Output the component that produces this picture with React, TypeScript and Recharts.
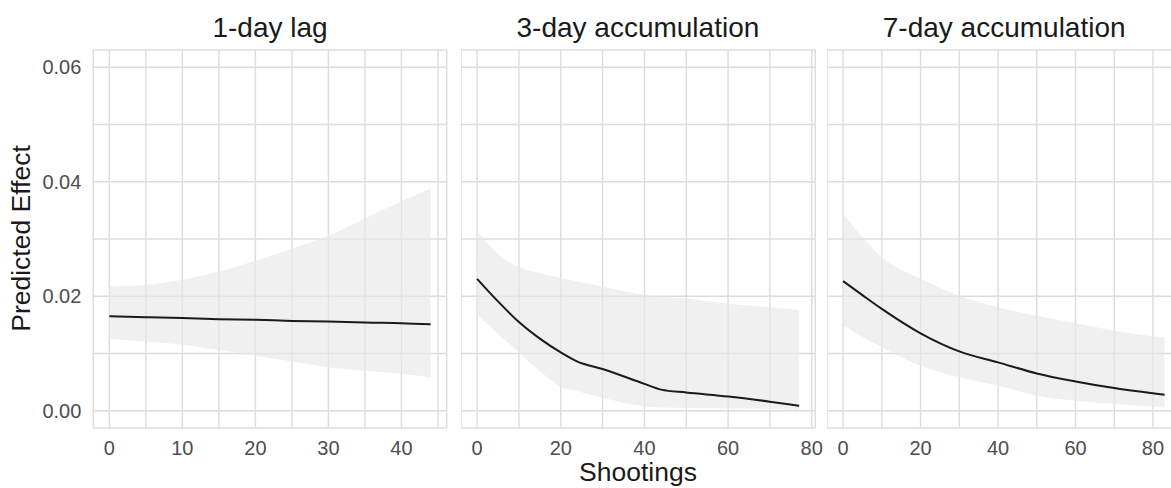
import React from "react";
import { ComposedChart, Area, Line, XAxis, YAxis, CartesianGrid } from "recharts";

// ---- Data ----
const lag1X = [0, 5, 10, 15, 20, 25, 30, 35, 40, 44];
const lag1Fit = [0.0165, 0.01635, 0.0162, 0.016, 0.0159, 0.0157, 0.0156, 0.0154, 0.0153, 0.0151];
const lag1Low = [0.01255, 0.0121, 0.01155, 0.0106, 0.00963, 0.0086, 0.0076, 0.007, 0.00642, 0.00584];
const lag1High = [0.0217, 0.022, 0.0229, 0.0243, 0.0262, 0.0283, 0.0306, 0.0336, 0.0366, 0.0388];

const acc3X = [0, 5, 10, 15, 20, 24, 30, 40, 44, 50, 60, 70, 77];
const acc3Fit = [0.02305, 0.0191, 0.0155, 0.0126, 0.0102, 0.0086, 0.0073, 0.0047, 0.0037, 0.0032, 0.0025, 0.0016, 0.0009];
const acc3Low = [0.0168, 0.0134, 0.0102, 0.0069, 0.0042, 0.0034, 0.0023, 0.0008, 0.0006, 0.0005, 0.0004, 0.0003, 0.0002];
const acc3High = [0.0315, 0.0274, 0.0251, 0.024, 0.0232, 0.0226, 0.0217, 0.0203, 0.02, 0.0196, 0.0187, 0.0181, 0.0176];

const acc7X = [0, 5, 10, 20, 30, 40, 50, 60, 70, 83];
const acc7Fit = [0.02264, 0.0202, 0.0178, 0.01354, 0.01038, 0.00846, 0.00653, 0.00513, 0.00397, 0.0028];
const acc7Low = [0.01488, 0.0129, 0.0111, 0.00788, 0.00584, 0.00438, 0.00263, 0.00175, 0.00117, 0.00058];
const acc7High = [0.0344, 0.0303, 0.0268, 0.0231, 0.0201, 0.0181, 0.0166, 0.0153, 0.014, 0.0128];

const panelTitles = ["1-day lag", "3-day accumulation", "7-day accumulation"];
const yTicks = [0, 0.01, 0.02, 0.03, 0.04, 0.05, 0.06];
const yMajor = [0, 0.02, 0.04, 0.06];
const lag1Ticks = [0, 5, 10, 15, 20, 25, 30, 35, 40, 45];
const lag1Major = [0, 10, 20, 30, 40];
const accTicks = [0, 10, 20, 30, 40, 50, 60, 70, 80];
const accMajor = [0, 20, 40, 60, 80];

const xTitle = "Shootings";
const yTitle = "Predicted Effect";

const build = (xs: number[], fit: number[], lo: number[], hi: number[]) =>
  xs.map((x, i) => ({ x, fit: fit[i], band: [lo[i], hi[i]] }));

const FONT = "'Liberation Sans', Arial, Helvetica, sans-serif";
const tickStyle = { fontFamily: FONT, fontSize: 20, fill: "#4d4d4d" };
const EXTRA = 30;

type PanelProps = {
  left: number;
  width: number;
  data: any[];
  xDomain: [number, number];
  xTicks: number[];
  xMajor: number[];
  showY: boolean;
  yAxisWidth: number;
};

function Panel({ left, width, data, xDomain, xTicks, xMajor, showY, yAxisWidth }: PanelProps) {
  return (
    <div style={{ position: "absolute", left, top: 0 }}>
      <ComposedChart
        width={width + EXTRA}
        height={488}
        data={data}
        margin={{ top: 50, right: EXTRA, bottom: 0, left: 0 }}
      >
        <CartesianGrid stroke="#dcdcdc" strokeWidth={1.4} />
        <XAxis
          dataKey="x"
          type="number"
          domain={xDomain}
          allowDataOverflow
          ticks={xTicks}
          interval={0}
          height={60}
          axisLine={false}
          tickLine={false}
          tickSize={0}
          tickMargin={13}
          tick={tickStyle}
          tickFormatter={(v: number) => (xMajor.includes(v) ? String(v) : "")}
        />
        <YAxis
          type="number"
          domain={[-0.003, 0.063]}
          allowDataOverflow
          ticks={yTicks}
          interval={0}
          width={yAxisWidth}
          hide={!showY}
          axisLine={false}
          tickLine={false}
          tickSize={0}
          tickMargin={12}
          tick={tickStyle}
          tickFormatter={(v: number) =>
            yMajor.some((m) => Math.abs(m - v) < 1e-9) ? v.toFixed(2) : ""
          }
        />
        <Area
          dataKey="band"
          type="monotone"
          stroke="none"
          fill="#e8e8e8"
          fillOpacity={0.65}
          isAnimationActive={false}
        />
        <Line
          dataKey="fit"
          type="monotone"
          stroke="#1a1a1a"
          strokeWidth={2}
          dot={false}
          activeDot={false}
          isAnimationActive={false}
        />
      </ComposedChart>
    </div>
  );
}

export default function App() {
  const d1 = build(lag1X, lag1Fit, lag1Low, lag1High);
  const d2 = build(acc3X, acc3Fit, acc3Low, acc3High);
  const d3 = build(acc7X, acc7Fit, acc7Low, acc7High);
  return (
    <div
      style={{
        position: "fixed",
        left: 0,
        top: 0,
        width: 1171,
        height: 488,
        overflow: "hidden",
        background: "#ffffff",
      }}
    >
      <Panel left={0} width={446.7} data={d1} xDomain={[-2.2, 46.2]} xTicks={lag1Ticks} xMajor={lag1Major} showY={true} yAxisWidth={93.3} />
      <Panel left={460.7} width={354.3} data={d2} xDomain={[-3.85, 80.85]} xTicks={accTicks} xMajor={accMajor} showY={false} yAxisWidth={0} />
      <Panel left={827.3} width={353.7} data={d3} xDomain={[-4.15, 87.15]} xTicks={accTicks} xMajor={accMajor} showY={false} yAxisWidth={0} />
      <svg
        width={1171}
        height={488}
        style={{ position: "absolute", left: 0, top: 0, pointerEvents: "none" }}
      >
        <g fontFamily={FONT} fill="#1a1a1a" textAnchor="middle">
          <text x={270} y={37} fontSize={28}>{panelTitles[0]}</text>
          <text x={637.9} y={37} fontSize={28}>{panelTitles[1]}</text>
          <text x={1004.2} y={37} fontSize={28}>{panelTitles[2]}</text>
          <text x={638} y={481} fontSize={26.5}>{xTitle}</text>
          <text x={30} y={238.5} fontSize={26.5} transform="rotate(-90 30 238.5)">{yTitle}</text>
        </g>
      </svg>
    </div>
  );
}
